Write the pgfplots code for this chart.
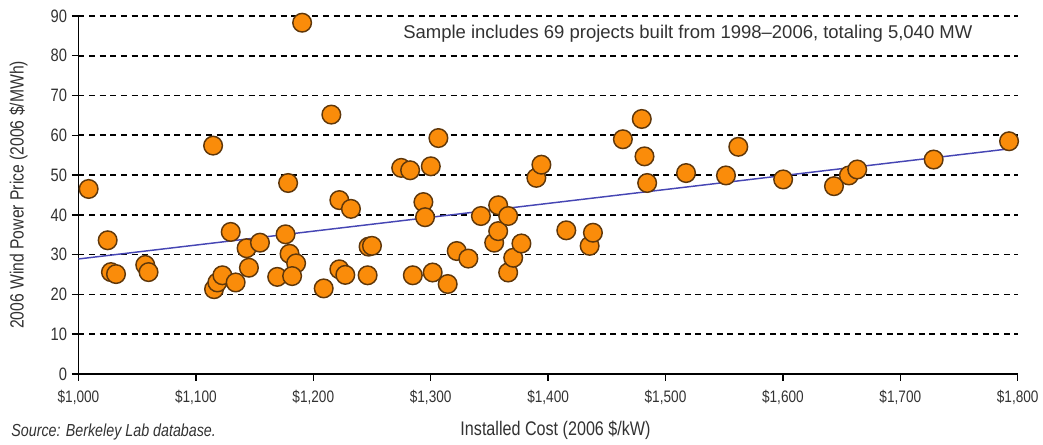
\documentclass[border=0pt]{standalone}
\usepackage{pgfplots}
\pgfplotsset{compat=1.18}
\usepackage{fontspec}
\setmainfont{Liberation Sans}[FakeStretch=0.82]
\newfontfamily\widefont{Liberation Sans}
\definecolor{dotfill}{RGB}{250,140,10}
\definecolor{dotedge}{RGB}{95,55,10}
\definecolor{trend}{RGB}{70,70,180}
\definecolor{txt}{RGB}{50,50,50}

\begin{document}
\begin{tikzpicture}
\begin{axis}[
    scale only axis,
    width=706.5pt, height=269.25pt,
    xmin=1000, xmax=1800,
    ymin=0, ymax=90,
    clip=false,
    axis x line*=bottom,
    axis y line*=left,
    axis line style={black, line width=1.1pt},
    tick align=outside,
    major tick length=5pt,
    tick style={black, line width=1.1pt},
    xtick={1000,1100,...,1800},
    xticklabels={{\$1,000},{\$1,100},{\$1,200},{\$1,300},{\$1,400},{\$1,500},{\$1,600},{\$1,700},{\$1,800}},
    ytick={0,10,...,90},
    /pgf/number format/assume math mode=true,
    x tick label style={font=\fontsize{12.5}{14}\selectfont, text=txt, yshift=-4pt},
    y tick label style={font=\fontsize{13.5}{15}\selectfont, text=txt},
    ymajorgrids=true,
    grid style={black, line width=1.2pt, dash pattern=on 4.5pt off 3.5pt},
    xlabel={Installed Cost (2006 \$/kW)},
    ylabel={2006 Wind Power Price (2006 \$/MWh)},
    xlabel style={font=\fontsize{14.8}{16}\selectfont, text=txt, at={([xshift=5.6pt,yshift=-46.5pt]rel axis cs:0.5,0)}, anchor=base},
    ylabel style={font=\fontsize{14.4}{16}\selectfont, text=txt, at={([xshift=-45pt]rel axis cs:0,0.5)}, anchor=center},
]

% fitted trend line
\addplot[trend, line width=1.1pt] coordinates {(1000,28.9) (1793,56.6)};

% projects
\addplot[only marks, mark=*, mark size=7pt,
    mark options={fill=dotfill, draw=dotedge, line width=1.1pt}]
coordinates {
(1008.7,46.5) (1024.9,33.6) (1027.7,25.6) (1032.0,25.1) (1056.9,27.4)
(1059.7,25.6) (1114.7,57.4) (1115.5,21.3) (1118.3,23.0) (1122.6,24.8)
(1129.7,35.7) (1133.9,23.0) (1143.2,31.6) (1145.2,26.7) (1154.6,33.0)
(1169.3,24.4) (1178.6,48.0) (1176.4,35.1) (1179.8,30.2) (1185.4,27.8)
(1182.0,24.6) (1190.5,88.3) (1215.4,65.2) (1208.9,21.5) (1222.2,43.7)
(1232.1,41.5) (1222.2,26.3) (1227.3,24.9) (1246.3,24.8) (1247.1,32.0)
(1250.0,32.2) (1274.9,51.8) (1282.5,51.2) (1284.8,24.8) (1293.8,43.2)
(1295.2,39.4) (1300.1,52.2) (1301.7,25.5) (1306.6,59.3) (1314.5,22.6)
(1322.2,30.9) (1332.1,29.0) (1342.8,39.7) (1354.1,33.0) (1357.5,35.9)
(1357.5,42.4) (1366.0,39.7) (1366.0,25.5) (1370.3,29.2) (1377.3,32.8)
(1390.0,49.3) (1394.3,52.6) (1415.5,36.1) (1435.4,32.2) (1438.2,35.5)
(1463.7,59.0) (1479.8,64.1) (1482.1,54.7) (1484.4,48.0) (1517.5,50.5)
(1551.5,49.9) (1562.0,57.1) (1600.2,48.9) (1643.5,47.2) (1656.2,49.9)
(1663.3,51.4) (1728.4,53.9) (1792.6,58.5)
};

\node[font=\widefont\fontsize{13.9}{15}\selectfont, text=txt, fill=white, inner sep=1pt]
    at (axis cs:1519,85.5) {Sample includes 69 projects built from 1998–2006, totaling 5,040 MW};
\node[font=\fontsize{13.1}{15}\itshape, text=txt, anchor=base west]
    at ([shift={(-54pt,-47pt)}]rel axis cs:0,0) {Source: Berkeley Lab database.};
% a little white room above the plot, as in the original
\path ([shift={(-59pt,12pt)}]rel axis cs:0,1);
\end{axis}
\end{tikzpicture}
\end{document}
